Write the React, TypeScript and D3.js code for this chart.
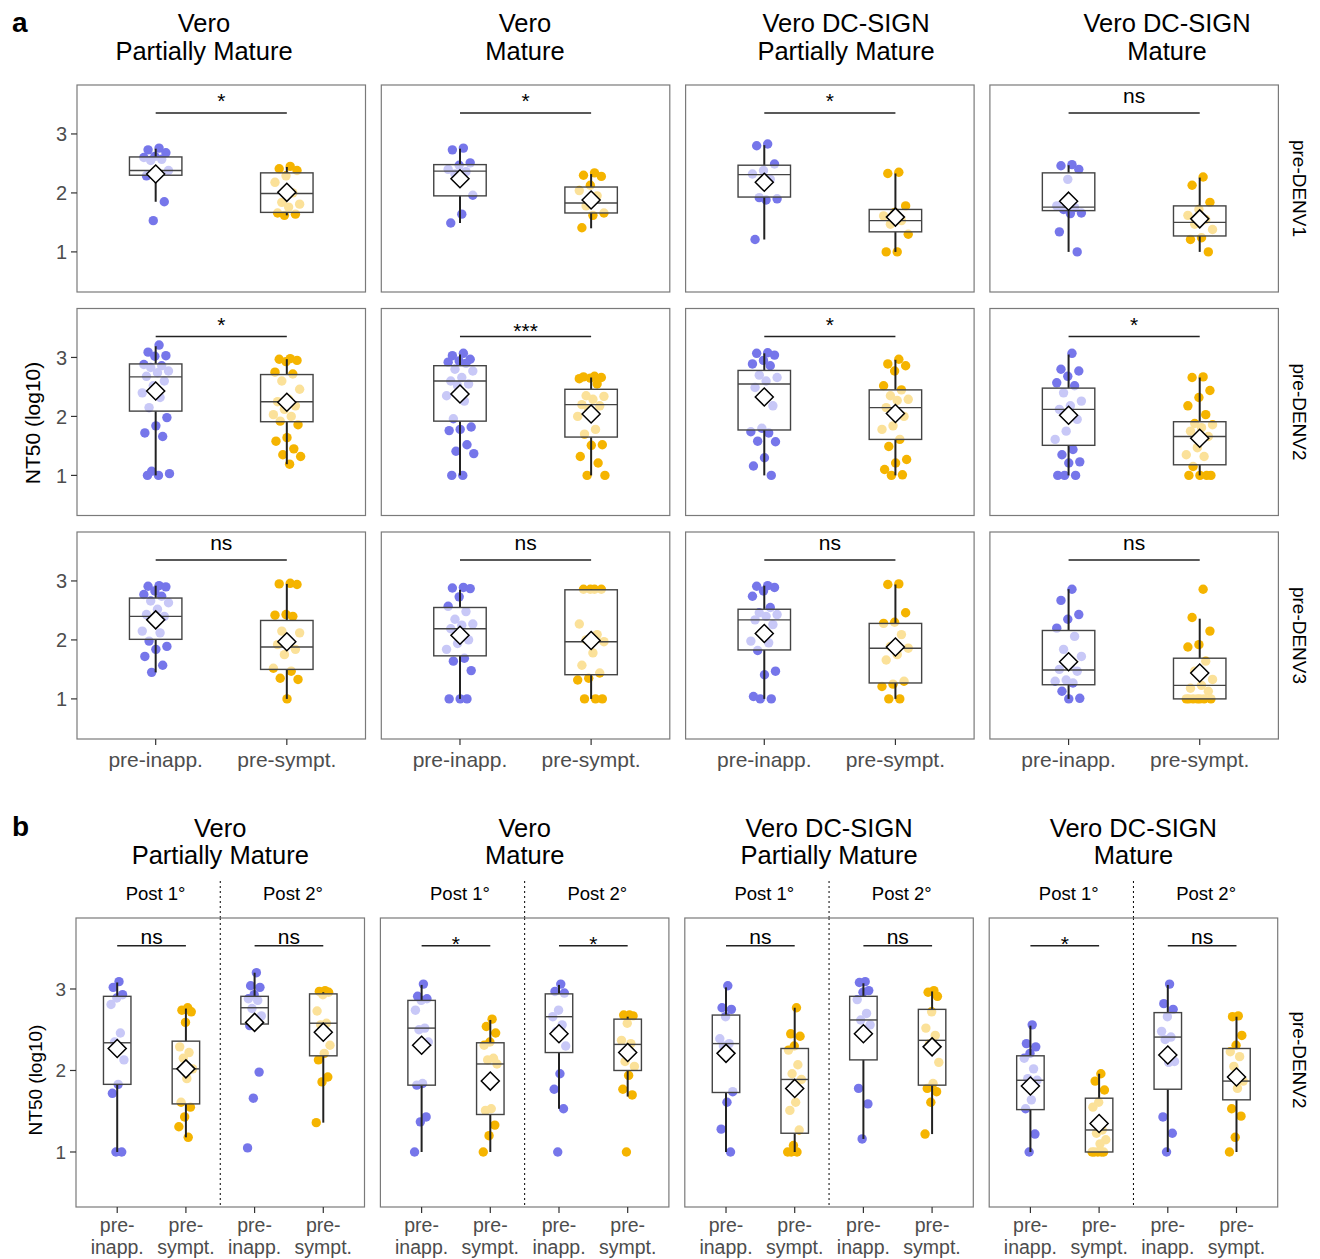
import React from 'react';
import * as d3 from 'd3';

const FONT = '"Liberation Sans", Arial, Helvetica, sans-serif';
const BLUE = '#7676EA';
const GOLD = '#F5B400';

const conditions = [
  ['Vero', 'Partially Mature'],
  ['Vero', 'Mature'],
  ['Vero DC-SIGN', 'Partially Mature'],
  ['Vero DC-SIGN', 'Mature'],
];
const serotypesA = ['pre-DENV1', 'pre-DENV2', 'pre-DENV3'];
const serotypeB = 'pre-DENV2';
const groupLabels = ['pre-inapp.', 'pre-sympt.'];
const groupLabelsB = [['pre-', 'inapp.'], ['pre-', 'sympt.']];
const periodsB = ['Post 1°', 'Post 2°'];
const yTicks = [1, 2, 3];

// significance labels, [serotype][condition]
const sigA = [
  ['*', '*', '*', 'ns'],
  ['*', '***', '*', '*'],
  ['ns', 'ns', 'ns', 'ns'],
];
// [condition][period]
const sigB = [
  ['ns', 'ns'],
  ['*', '*'],
  ['ns', 'ns'],
  ['*', 'ns'],
];

// NT50 (log10) per sample, [condition][pre-inapp., pre-sympt.]
const denv1Points = [
  [[2.76, 2.73, 2.68, 2.62, 2.6, 2.57, 2.55, 2.38, 2.3, 2.29, 1.85, 1.53], [2.45, 2.41, 2.38, 2.29, 2.18, 2.0, 1.84, 1.81, 1.76, 1.66, 1.64, 1.62]],
  [[2.76, 2.73, 2.51, 2.47, 2.4, 2.36, 2.32, 1.96, 1.64, 1.49], [2.34, 2.3, 2.28, 2.13, 2.04, 1.95, 1.78, 1.66, 1.62, 1.41]],
  [[2.83, 2.8, 2.49, 2.38, 2.32, 2.23, 1.92, 1.9, 1.88, 1.21], [2.35, 2.33, 1.78, 1.67, 1.61, 1.53, 1.47, 1.3, 1.0, 1.0]],
  [[2.48, 2.46, 2.4, 2.23, 1.78, 1.75, 1.72, 1.66, 1.65, 1.34, 1.0], [2.27, 2.13, 1.84, 1.72, 1.62, 1.55, 1.47, 1.38, 1.24, 1.21, 1.0]],
];
const denv2Points = [
  [[3.21, 3.09, 3.03, 3.02, 2.88, 2.86, 2.83, 2.77, 2.74, 2.68, 2.6, 2.52, 2.4, 2.32, 2.15, 1.98, 1.84, 1.72, 1.66, 1.07, 1.03, 1.0, 1.0],
   [2.98, 2.97, 2.95, 2.93, 2.75, 2.72, 2.6, 2.46, 2.29, 2.25, 2.18, 2.12, 2.03, 2.0, 1.92, 1.86, 1.64, 1.58, 1.45, 1.35, 1.32, 1.19]],
  [[3.07, 3.03, 2.97, 2.94, 2.92, 2.9, 2.8, 2.77, 2.66, 2.6, 2.55, 2.52, 2.35, 2.26, 1.96, 1.82, 1.78, 1.76, 1.52, 1.41, 1.37, 1.0, 1.0],
   [2.68, 2.67, 2.66, 2.65, 2.64, 2.55, 2.35, 2.34, 2.29, 2.2, 2.18, 2.12, 2.0, 1.78, 1.7, 1.52, 1.51, 1.32, 1.21, 1.0, 1.0]],
  [[3.08, 3.07, 3.04, 2.95, 2.89, 2.86, 2.7, 2.66, 2.6, 2.49, 2.18, 1.8, 1.74, 1.72, 1.58, 1.57, 1.3, 1.16, 1.0],
   [2.97, 2.89, 2.86, 2.77, 2.52, 2.45, 2.35, 2.29, 2.27, 2.15, 2.0, 1.84, 1.78, 1.61, 1.49, 1.27, 1.21, 1.1, 1.01, 1.0]],
  [[3.07, 2.8, 2.77, 2.68, 2.57, 2.52, 2.4, 2.26, 2.18, 2.12, 1.95, 1.75, 1.61, 1.44, 1.35, 1.23, 1.21, 1.0, 1.0, 1.0],
   [2.67, 2.66, 2.44, 2.32, 2.18, 2.03, 1.88, 1.86, 1.81, 1.75, 1.66, 1.47, 1.35, 1.32, 1.15, 1.0, 1.0, 1.0, 1.0]],
];
const denv3Points = [
  [[2.92, 2.91, 2.9, 2.83, 2.77, 2.74, 2.66, 2.63, 2.52, 2.43, 2.4, 2.32, 2.15, 2.12, 1.98, 1.89, 1.84, 1.72, 1.57, 1.45],
   [2.96, 2.95, 2.94, 2.43, 2.42, 2.4, 2.15, 2.12, 1.95, 1.92, 1.84, 1.75, 1.52, 1.47, 1.35, 1.33, 1.0]],
  [[2.89, 2.88, 2.87, 2.73, 2.57, 2.48, 2.35, 2.27, 2.25, 2.19, 2.0, 1.94, 1.84, 1.69, 1.64, 1.48, 1.0, 1.0, 1.0],
   [2.86, 2.86, 2.86, 2.86, 2.27, 2.09, 2.0, 1.97, 1.78, 1.57, 1.44, 1.35, 1.32, 1.0, 1.0, 1.0]],
  [[2.92, 2.91, 2.89, 2.83, 2.74, 2.55, 2.46, 2.43, 2.4, 2.34, 2.26, 2.12, 1.98, 1.95, 1.82, 1.47, 1.41, 1.04, 1.0, 1.0],
   [2.95, 2.94, 2.46, 2.3, 2.28, 2.09, 1.89, 1.86, 1.75, 1.66, 1.3, 1.25, 1.21, 1.0, 1.0]],
  [[2.86, 2.67, 2.43, 2.35, 2.2, 2.06, 1.84, 1.72, 1.58, 1.5, 1.47, 1.32, 1.3, 1.27, 1.13, 1.01, 1.0],
   [2.86, 2.38, 2.15, 1.92, 1.88, 1.64, 1.47, 1.33, 1.23, 1.18, 1.13, 1.0, 1.0, 1.0, 1.0, 1.0, 1.0, 1.0]],
];

// box summaries: [lower whisker, Q1, median, Q3, upper whisker, mean]
const denv1Stats = [
  [[1.85, 2.3, 2.38, 2.61, 2.75, 2.32], [1.62, 1.67, 1.99, 2.34, 2.44, 2.01]],
  [[1.49, 1.95, 2.37, 2.48, 2.75, 2.24], [1.4, 1.66, 1.83, 2.1, 2.32, 1.88]],
  [[1.21, 1.93, 2.31, 2.47, 2.81, 2.18], [1.0, 1.34, 1.53, 1.72, 2.33, 1.59]],
  [[1.0, 1.7, 1.76, 2.34, 2.47, 1.86], [1.0, 1.27, 1.5, 1.78, 2.26, 1.56]],
];
const denv2Stats = [
  [[1.0, 2.09, 2.67, 2.89, 3.19, 2.43], [1.19, 1.91, 2.25, 2.71, 2.97, 2.24]],
  [[1.0, 1.92, 2.6, 2.86, 3.05, 2.38], [1.0, 1.65, 2.2, 2.46, 2.66, 2.04]],
  [[1.0, 1.77, 2.55, 2.78, 3.07, 2.33], [1.0, 1.61, 2.15, 2.45, 2.96, 2.05]],
  [[1.0, 1.51, 2.12, 2.48, 3.05, 2.02], [1.0, 1.18, 1.66, 1.91, 2.66, 1.63]],
];
const denv3Stats = [
  [[1.45, 2.01, 2.4, 2.71, 2.92, 2.34], [1.0, 1.5, 1.88, 2.33, 2.95, 1.97]],
  [[1.0, 1.73, 2.19, 2.55, 2.85, 2.08], [1.0, 1.41, 1.97, 2.85, 2.86, 1.99]],
  [[1.0, 1.83, 2.34, 2.52, 2.92, 2.11], [1.0, 1.27, 1.86, 2.28, 2.94, 1.88]],
  [[1.0, 1.24, 1.49, 2.16, 2.86, 1.63], [1.0, 1.0, 1.23, 1.69, 2.36, 1.44]],
];

// panel b: [condition][post1 inapp, post1 sympt, post2 inapp, post2 sympt]
const postPoints = [
  [[3.09, 3.02, 2.93, 2.89, 2.81, 2.46, 2.35, 2.13, 1.83, 1.72, 1.0, 1.0],
   [2.77, 2.74, 2.72, 2.59, 2.29, 2.22, 2.15, 2.02, 1.9, 1.61, 1.55, 1.43, 1.31, 1.18],
   [3.2, 3.04, 3.02, 2.93, 2.88, 2.86, 2.76, 2.67, 2.62, 2.55, 1.98, 1.66, 1.05],
   [2.98, 2.97, 2.96, 2.93, 2.73, 2.58, 2.56, 2.31, 2.21, 2.13, 1.92, 1.86, 1.36]],
  [[3.06, 2.91, 2.88, 2.86, 2.74, 2.52, 2.5, 2.35, 1.84, 1.82, 1.43, 1.37, 1.0],
   [2.63, 2.54, 2.46, 2.35, 2.31, 2.15, 2.13, 2.08, 1.53, 1.51, 1.33, 1.2, 1.0],
   [3.06, 2.97, 2.95, 2.74, 2.66, 2.56, 2.48, 2.3, 1.96, 1.77, 1.53, 1.0],
   [2.68, 2.68, 2.67, 2.58, 2.37, 2.33, 2.11, 2.05, 1.94, 1.77, 1.7, 1.0]],
  [[3.04, 2.77, 2.75, 2.66, 2.39, 2.33, 2.3, 1.74, 1.61, 1.28, 1.0],
   [2.77, 2.45, 2.42, 2.3, 2.25, 2.07, 1.96, 1.89, 1.61, 1.51, 1.27, 1.08, 1.0, 1.0, 1.0],
   [3.09, 3.08, 2.98, 2.96, 2.87, 2.7, 2.62, 2.56, 2.5, 1.78, 1.59, 1.16],
   [2.98, 2.96, 2.91, 2.72, 2.52, 2.43, 2.33, 2.1, 1.84, 1.78, 1.74, 1.61, 1.22]],
  [[2.56, 2.33, 2.29, 2.21, 2.15, 2.02, 1.9, 1.88, 1.64, 1.53, 1.22, 1.0],
   [1.96, 1.87, 1.76, 1.61, 1.55, 1.27, 1.23, 1.15, 1.1, 1.0, 1.0, 1.0, 1.0, 1.0],
   [3.06, 2.82, 2.75, 2.66, 2.48, 2.41, 2.38, 2.11, 2.1, 1.43, 1.23, 1.0],
   [2.67, 2.66, 2.43, 2.31, 2.23, 2.17, 2.05, 1.87, 1.78, 1.53, 1.44, 1.18, 1.0]],
];
const postStats = [
  [[1.0, 1.83, 2.34, 2.91, 3.08, 2.27], [1.18, 1.59, 2.02, 2.36, 2.76, 2.02], [2.55, 2.57, 2.77, 2.91, 3.2, 2.59], [1.36, 2.18, 2.58, 2.94, 2.96, 2.47]],
  [[1.0, 1.82, 2.52, 2.86, 3.05, 2.31], [1.0, 1.46, 2.08, 2.34, 2.62, 1.87], [1.53, 2.22, 2.66, 2.94, 3.05, 2.45], [1.68, 2.0, 2.32, 2.63, 2.66, 2.22]],
  [[1.0, 1.73, 2.33, 2.68, 3.02, 2.21], [1.0, 1.23, 1.89, 2.27, 2.77, 1.78], [1.16, 2.13, 2.62, 2.91, 3.07, 2.45], [1.22, 1.82, 2.37, 2.75, 2.97, 2.29]],
  [[1.0, 1.52, 1.88, 2.18, 2.55, 1.81], [1.0, 1.0, 1.27, 1.66, 1.96, 1.35], [1.0, 1.77, 2.41, 2.71, 3.05, 2.19], [1.0, 1.64, 1.87, 2.27, 2.66, 1.92]],
];

const pointsA = [denv1Points, denv2Points, denv3Points];
const statsA = [denv1Stats, denv2Stats, denv3Stats];

interface Group { pos: number; color: string; values: number[]; stats: number[] }
interface Sig { from: number; to: number; label: string }

// deterministic spread of points around the category centre
const jitter = (i: number) => ((((i + 1) * 0.6180339887) % 1) - 0.5) * 0.22;

const sigOffsetA: Record<string, number> = { ns: -10, '*': -5, '***': 1 };
const sigOffsetB: Record<string, number> = { ns: -2, '*': 5, '***': 5 };

function BoxPanel(props: {
  left: number; top: number; width: number; height: number;
  xDomain: [number, number]; yDomain: [number, number];
  groups: Group[]; sigs: Sig[]; sigValue: number;
  sigOffset: Record<string, number>; divider?: number;
}) {
  const { left, top, width, height, xDomain, yDomain, groups, sigs, sigValue, sigOffset, divider } = props;
  const x = d3.scaleLinear().domain(xDomain).range([left, left + width]);
  const y = d3.scaleLinear().domain(yDomain).range([top + height, top]);
  const hw = 0.2;
  const ds = 9;
  return (
    <g>
      <rect x={left} y={top} width={width} height={height} fill="#fff" />
      {divider !== undefined && (
        <line x1={x(divider)} x2={x(divider)} y1={top} y2={top + height}
          stroke="#000" strokeWidth={1} strokeDasharray="2,3" />
      )}
      {groups.map((g, gi) => (
        <g key={'p' + gi}>
          {g.values.map((v, i) => (
            <circle key={i} cx={x(g.pos + jitter(i))} cy={y(v)} r={4.7} fill={g.color} />
          ))}
        </g>
      ))}
      {groups.map((g, gi) => {
        const [lo, q1, med, q3, hi, mean] = g.stats;
        const cx = x(g.pos);
        const x0 = x(g.pos - hw);
        const x1 = x(g.pos + hw);
        const my = y(mean);
        return (
          <g key={'b' + gi}>
            <line x1={cx} x2={cx} y1={y(hi)} y2={y(q3)} stroke="#222" strokeWidth={2} />
            <line x1={cx} x2={cx} y1={y(q1)} y2={y(lo)} stroke="#222" strokeWidth={2} />
            <rect x={x0} y={y(q3)} width={x1 - x0} height={Math.max(0, y(q1) - y(q3))}
              fill="#fff" fillOpacity={0.6} stroke="#444" strokeWidth={1.4} />
            <line x1={x0} x2={x1} y1={y(med)} y2={y(med)} stroke="#444" strokeWidth={1.4} />
            <path d={`M${cx},${my - ds}L${cx + ds},${my}L${cx},${my + ds}L${cx - ds},${my}Z`}
              fill="#fff" stroke="#000" strokeWidth={1.5} />
          </g>
        );
      })}
      {sigs.map((s, si) => {
        const ly = y(sigValue);
        return (
          <g key={'s' + si}>
            <line x1={x(s.from)} x2={x(s.to)} y1={ly} y2={ly} stroke="#222" strokeWidth={1.6} />
            <text x={(x(s.from) + x(s.to)) / 2} y={ly + (sigOffset[s.label] ?? -5)}
              textAnchor="middle" fontSize={21} fill="#000">{s.label}</text>
          </g>
        );
      })}
      <rect x={left} y={top} width={width} height={height} fill="none" stroke="#7a7a7a" strokeWidth={1.2} />
    </g>
  );
}

const PW = 288.5;
const colLeftA = (c: number) => 77 + c * 304.3;
const rowTopA = [85, 308.5, 532];
const PH_A = 207;
const yDomainA: [number, number] = [0.32, 3.83];

const colLeftB = (c: number) => 76 + c * 304.4;
const TOP_B = 918;
const PH_B = 289;
const yDomainB: [number, number] = [0.325, 3.871];

export default function App() {
  const yA = (r: number) => d3.scaleLinear().domain(yDomainA).range([rowTopA[r] + PH_A, rowTopA[r]]);
  const yB = d3.scaleLinear().domain(yDomainB).range([TOP_B + PH_B, TOP_B]);
  const xA = (c: number) => d3.scaleLinear().domain([0.4, 2.6]).range([colLeftA(c), colLeftA(c) + PW]);
  const xB = (c: number) => d3.scaleLinear().domain([0.4, 4.6]).range([colLeftB(c), colLeftB(c) + PW]);
  const colors = [BLUE, GOLD];

  return (
    <svg width={1320} height={1259} style={{ position: 'absolute', left: 0, top: 0, background: '#fff' }}
      fontFamily={FONT}>
      <rect width={1320} height={1259} fill="#fff" />

      {/* ---------- panel a ---------- */}
      <text x={12} y={32} fontSize={28} fontWeight="bold">a</text>
      {conditions.map((lines, c) => (
        <text key={'ta' + c} x={204 + c * 321} textAnchor="middle" fontSize={25.5} fill="#000">
          <tspan x={204 + c * 321} y={32}>{lines[0]}</tspan>
          <tspan x={204 + c * 321} y={60}>{lines[1]}</tspan>
        </text>
      ))}
      {serotypesA.map((s, r) => (
        <g key={'row' + r}>
          {conditions.map((_, c) => (
            <BoxPanel key={c} left={colLeftA(c)} top={rowTopA[r]} width={PW} height={PH_A}
              xDomain={[0.4, 2.6]} yDomain={yDomainA}
              groups={[0, 1].map((g) => ({ pos: g + 1, color: colors[g], values: pointsA[r][c][g], stats: statsA[r][c][g] }))}
              sigs={[{ from: 1, to: 2, label: sigA[r][c] }]} sigValue={3.355} sigOffset={sigOffsetA} />
          ))}
          {yTicks.map((t) => (
            <g key={t}>
              <line x1={colLeftA(0) - 6} x2={colLeftA(0)} y1={yA(r)(t)} y2={yA(r)(t)} stroke="#333" strokeWidth={1.2} />
              <text x={colLeftA(0) - 10} y={yA(r)(t)} dy="0.36em" textAnchor="end" fontSize={20} fill="#4d4d4d">{t}</text>
            </g>
          ))}
          <text transform={`translate(1300,${rowTopA[r] + PH_A / 2}) rotate(90)`} textAnchor="middle"
            dy="0.35em" fontSize={19} fill="#000">{s}</text>
        </g>
      ))}
      {conditions.map((_, c) => (
        <g key={'xa' + c}>
          {groupLabels.map((lab, g) => (
            <g key={g}>
              <line x1={xA(c)(g + 1)} x2={xA(c)(g + 1)} y1={739} y2={745} stroke="#333" strokeWidth={1.2} />
              <text x={xA(c)(g + 1)} y={767} textAnchor="middle" fontSize={21} fill="#4d4d4d">{lab}</text>
            </g>
          ))}
        </g>
      ))}
      <text transform="translate(40,423) rotate(-90)" textAnchor="middle" fontSize={21} fill="#000">NT50 (log10)</text>

      {/* ---------- panel b ---------- */}
      <text x={12} y={836} fontSize={28} fontWeight="bold">b</text>
      {conditions.map((lines, c) => {
        const cx = colLeftB(c) + PW / 2;
        const x = xB(c);
        return (
          <g key={'pb' + c}>
            <text textAnchor="middle" fontSize={25.5} fill="#000">
              <tspan x={cx} y={837}>{lines[0]}</tspan>
              <tspan x={cx} y={864}>{lines[1]}</tspan>
            </text>
            {periodsB.map((p, pi) => (
              <text key={p} x={x(1.5 + pi * 2) + 4} y={900} textAnchor="middle" fontSize={18.5} fill="#000">{p}</text>
            ))}
            <line x1={x(2.5)} x2={x(2.5)} y1={881} y2={TOP_B} stroke="#000" strokeWidth={1} strokeDasharray="2,3" />
            <BoxPanel left={colLeftB(c)} top={TOP_B} width={PW} height={PH_B}
              xDomain={[0.4, 4.6]} yDomain={yDomainB}
              groups={[0, 1, 2, 3].map((g) => ({ pos: g + 1, color: colors[g % 2], values: postPoints[c][g], stats: postStats[c][g] }))}
              sigs={[{ from: 1, to: 2, label: sigB[c][0] }, { from: 3, to: 4, label: sigB[c][1] }]}
              sigValue={3.53} sigOffset={sigOffsetB} divider={2.5} />
            {[0, 1, 2, 3].map((g) => (
              <g key={g}>
                <line x1={x(g + 1)} x2={x(g + 1)} y1={TOP_B + PH_B} y2={TOP_B + PH_B + 6} stroke="#333" strokeWidth={1.2} />
                <text x={x(g + 1)} y={1232} textAnchor="middle" fontSize={19.5} fill="#4d4d4d">{groupLabelsB[g % 2][0]}</text>
                <text x={x(g + 1)} y={1254} textAnchor="middle" fontSize={19.5} fill="#4d4d4d">{groupLabelsB[g % 2][1]}</text>
              </g>
            ))}
          </g>
        );
      })}
      {yTicks.map((t) => (
        <g key={'yb' + t}>
          <line x1={colLeftB(0) - 6} x2={colLeftB(0)} y1={yB(t)} y2={yB(t)} stroke="#333" strokeWidth={1.2} />
          <text x={colLeftB(0) - 10} y={yB(t)} dy="0.36em" textAnchor="end" fontSize={19} fill="#4d4d4d">{t}</text>
        </g>
      ))}
      <text transform={`translate(1300,${TOP_B + 142}) rotate(90)`} textAnchor="middle" dy="0.35em"
        fontSize={19} fill="#000">{serotypeB}</text>
      <text transform="translate(42,1080) rotate(-90)" textAnchor="middle" fontSize={19} fill="#000">NT50 (log10)</text>
    </svg>
  );
}
